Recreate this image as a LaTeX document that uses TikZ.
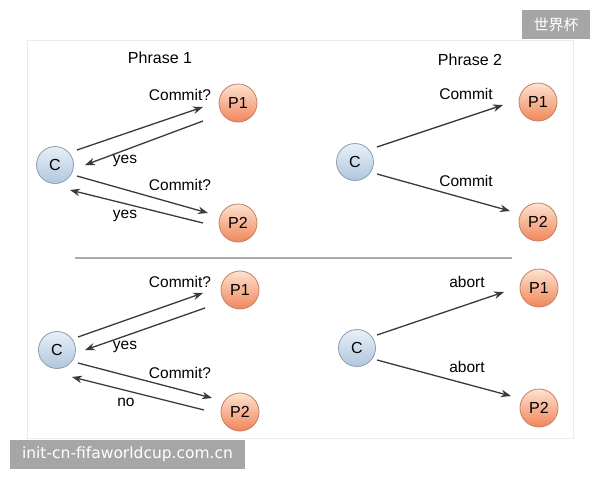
\documentclass[tikz,border=0pt]{standalone}
\usepackage{fontspec}
\setmainfont{Liberation Sans}
\newfontfamily\cjkfont{Noto Sans CJK SC}
\newfontfamily\wmfont{DejaVu Sans}
\usetikzlibrary{arrows.meta,calc}
\definecolor{arrowgray}{HTML}{3A3A3A}
\definecolor{framegray}{HTML}{EBEBEB}
\definecolor{sepgray}{HTML}{AAAAAA}
\definecolor{wmgray}{HTML}{A6A6A6}
\definecolor{cborder}{HTML}{8E9EAE}
\definecolor{ctop}{HTML}{E8F0F8}
\definecolor{cbot}{HTML}{B0C6DE}
\definecolor{pborder}{HTML}{C48064}
\definecolor{ptop}{HTML}{FDE2D0}
\definecolor{pbot}{HTML}{F0865A}
\tikzset{
  cnode/.style={circle, minimum size=37pt, inner sep=0pt, draw=cborder, line width=0.8pt,
    top color=ctop, bottom color=cbot, font=\fontsize{16}{18}\selectfont},
  pnode/.style={circle, minimum size=38pt, inner sep=0pt, draw=pborder, line width=0.8pt,
    top color=ptop, bottom color=pbot, font=\fontsize{16}{18}\selectfont},
  msg/.style={draw=arrowgray, line width=1.3pt, -{Stealth[length=10pt,width=7.5pt]}},
  lbl/.style={inner sep=0pt, font=\fontsize{15.5}{18}\selectfont, text=black},
  ttl/.style={inner sep=0pt, font=\fontsize{16}{18}\selectfont, text=black},
  wmbox/.style={fill=wmgray, text=white, inner sep=0pt},
}
\begin{document}
\begin{tikzpicture}[x=1pt,y=-1pt]
\useasboundingbox (0,0) rectangle (600,480);
\fill[white] (0,0) rectangle (600,480);
\draw[framegray, line width=0.8pt] (27,40) rectangle (573,438);
\coordinate (sepL) at (75,258);
\coordinate (sepR) at (512,258);
\draw[sepgray, line width=1.2pt] (sepL) -- (sepR);

% titles
\node[ttl] (t1) at (160,58) {Phrase 1};
\node[ttl] (t2) at (470,60) {Phrase 2};

% panel top-left
\node[cnode] (C1) at (55,165) {C};
\node[pnode] (A1) at (238,103) {P1};
\node[pnode] (B1) at (238,223) {P2};
\draw[msg] ($(C1)+(22,-15)$) -- ($(A1)+(-35,4)$);
\draw[msg] ($(A1)+(-35,18)$) -- ($(C1)+(30,0)$);
\draw[msg] ($(C1)+(22,11)$) -- ($(B1)+(-30,-10)$);
\draw[msg] ($(B1)+(-35,0)$) -- ($(C1)+(15,25)$);
\node[lbl] (l11) at (180,95) {Commit?};
\node[lbl] (l12) at (125,161) {yes};
\node[lbl] (l13) at (180,185) {Commit?};
\node[lbl] (l14) at (125,216) {yes};

% panel top-right
\node[cnode] (C2) at (355,162) {C};
\node[pnode] (A2) at (538,102) {P1};
\node[pnode] (B2) at (538,222) {P2};
\draw[msg] ($(C2)+(22,-15)$) -- ($(A2)+(-35,3)$);
\draw[msg] ($(C2)+(22,12)$) -- ($(B2)+(-28,-11)$);
\node[lbl] (l21) at (466,94) {Commit};
\node[lbl] (l22) at (466,181) {Commit};

% panel bottom-left
\node[cnode] (C3) at (57,350) {C};
\node[pnode] (A3) at (240,290) {P1};
\node[pnode] (B3) at (240,412) {P2};
\draw[msg] ($(C3)+(21,-13)$) -- ($(A3)+(-37,3)$);
\draw[msg] ($(A3)+(-35,18)$) -- ($(C3)+(28,0)$);
\draw[msg] ($(C3)+(21,13)$) -- ($(B3)+(-28,-14)$);
\draw[msg] ($(B3)+(-36,-2)$) -- ($(C3)+(15,27)$);
\node[lbl] (l31) at (180,282) {Commit?};
\node[lbl] (l32) at (125,347) {yes};
\node[lbl] (l33) at (180,373) {Commit?};
\node[lbl] (l34) at (126,402) {no};

% panel bottom-right
\node[cnode] (C4) at (357,348) {C};
\node[pnode] (A4) at (539,288) {P1};
\node[pnode] (B4) at (539,408) {P2};
\draw[msg] ($(C4)+(20,-13)$) -- ($(A4)+(-35,4)$);
\draw[msg] ($(C4)+(20,12)$) -- ($(B4)+(-28,-12)$);
\node[lbl] (l41) at (467,282) {abort};
\node[lbl] (l42) at (467,367) {abort};

% watermarks
\node[wmbox, minimum width=68pt, minimum height=29pt, font=\cjkfont\fontsize{15}{18}\selectfont] (w1) at (556,24.5) {世界杯};
\node[wmbox, minimum width=235pt, minimum height=29pt, font=\wmfont\fontsize{15.5}{18}\selectfont] (w2) at (127.5,454.5) {init-cn-fifaworldcup.com.cn};
\end{tikzpicture}
\end{document}
